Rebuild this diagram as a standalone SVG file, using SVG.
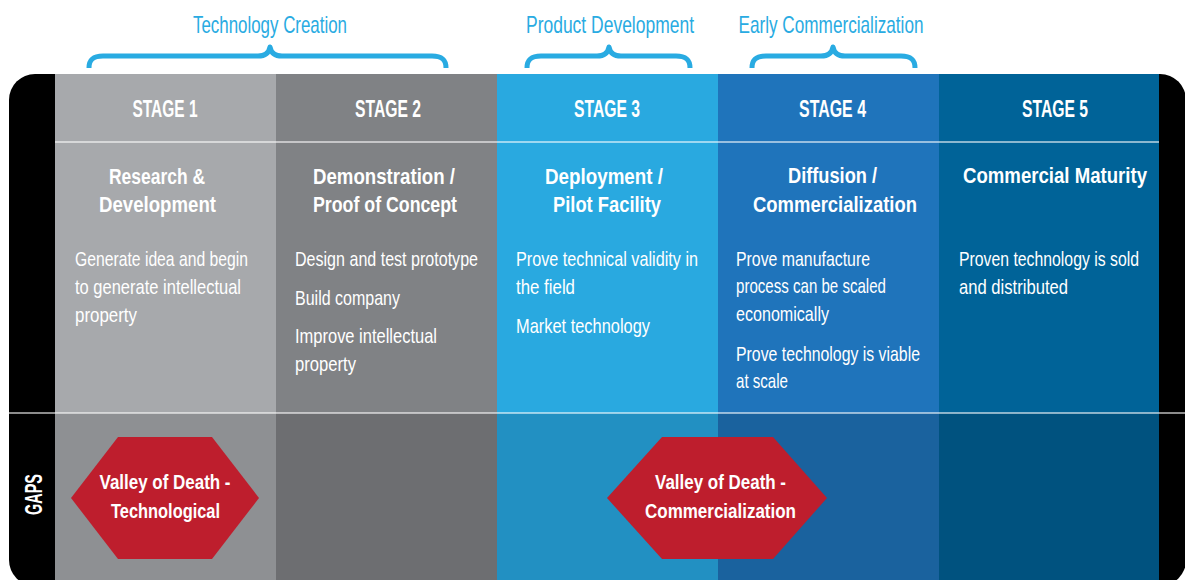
<svg xmlns="http://www.w3.org/2000/svg" width="1185" height="580" viewBox="0 0 1185 580">
<style>
.lbl{font-family:"Liberation Sans Narrow","Liberation Sans",Arial,sans-serif;font-size:24px;fill:#29abe2;text-anchor:middle}
.brace{fill:none;stroke:#29abe2;stroke-width:5;stroke-linecap:butt;stroke-linejoin:round}
.stage{font-family:"Liberation Sans Narrow","Liberation Sans",Arial,sans-serif;font-size:23px;font-weight:bold;fill:#fff;text-anchor:middle}
.title{font-family:"Liberation Sans Narrow","Liberation Sans",Arial,sans-serif;font-size:21.5px;font-weight:bold;fill:#fff;text-anchor:middle}
.body{font-family:"Liberation Sans Narrow","Liberation Sans",Arial,sans-serif;font-size:21px;fill:#fff}
.hex{fill:#be1e2d}
.hext{font-family:"Liberation Sans Narrow","Liberation Sans",Arial,sans-serif;font-size:20px;font-weight:bold;fill:#fff;text-anchor:middle}
.div{stroke:#fff;stroke-opacity:0.55;stroke-width:2}
</style>
<rect width="1185" height="580" fill="#fff"/>
<!-- top phase labels with braces -->
<g id="phase-technology-creation">
<text class="lbl" x="270" y="33" textLength="154" lengthAdjust="spacingAndGlyphs">Technology Creation</text>
<path class="brace" d="M89,68 C89,60 93,56 103,56 L258,56 C265,56 269,53 270,47 C271,53 275,56 282,56 L432,56 C442,56 446,60 446,68"/>
</g>
<g id="phase-product-development">
<text class="lbl" x="610" y="33" textLength="168" lengthAdjust="spacingAndGlyphs">Product Development</text>
<path class="brace" d="M527,68 C527,60 531,56 541,56 L597,56 C604,56 608,53 609,47 C610,53 614,56 621,56 L676,56 C686,56 690,60 690,68"/>
</g>
<g id="phase-early-commercialization">
<text class="lbl" x="831" y="33" textLength="185" lengthAdjust="spacingAndGlyphs">Early Commercialization</text>
<path class="brace" d="M752,68 C752,60 756,56 766,56 L821,56 C828,56 832,53 833,47 C834,53 838,56 845,56 L901,56 C911,56 915,60 915,68"/>
</g>
<!-- frame -->
<g id="frame">
<rect x="9" y="74" width="1177" height="512" rx="26" ry="26" fill="#000"/>
</g>
<!-- columns -->
<g id="stage1">
<rect x="55" y="74" width="221" height="339" fill="#a7a9ac"/>
<rect x="55" y="413" width="221" height="167" fill="#8e9093"/>
<text class="stage" x="165" y="117" textLength="65" lengthAdjust="spacingAndGlyphs">STAGE 1</text>
<text class="title" x="157" y="184" textLength="96" lengthAdjust="spacingAndGlyphs">Research &amp;</text>
<text class="title" x="157.5" y="212" textLength="117" lengthAdjust="spacingAndGlyphs">Development</text>
<text class="body" x="75" y="266" textLength="173" lengthAdjust="spacingAndGlyphs">Generate idea and begin</text>
<text class="body" x="75" y="294" textLength="166" lengthAdjust="spacingAndGlyphs">to generate intellectual</text>
<text class="body" x="75" y="322" textLength="62" lengthAdjust="spacingAndGlyphs">property</text>
</g>
<g id="stage2">
<rect x="276" y="74" width="221" height="339" fill="#808285"/>
<rect x="276" y="413" width="221" height="167" fill="#6d6e71"/>
<text class="stage" x="388" y="117" textLength="66" lengthAdjust="spacingAndGlyphs">STAGE 2</text>
<text class="title" x="384" y="184" textLength="142" lengthAdjust="spacingAndGlyphs">Demonstration /</text>
<text class="title" x="385" y="212" textLength="144" lengthAdjust="spacingAndGlyphs">Proof of Concept</text>
<text class="body" x="295" y="266" textLength="183" lengthAdjust="spacingAndGlyphs">Design and test prototype</text>
<text class="body" x="295" y="305" textLength="105" lengthAdjust="spacingAndGlyphs">Build company</text>
<text class="body" x="295" y="343" textLength="142" lengthAdjust="spacingAndGlyphs">Improve intellectual</text>
<text class="body" x="295" y="371" textLength="61" lengthAdjust="spacingAndGlyphs">property</text>
</g>
<g id="stage3">
<rect x="497" y="74" width="221" height="339" fill="#29a9e0"/>
<rect x="497" y="413" width="221" height="167" fill="#2290c2"/>
<text class="stage" x="607" y="117" textLength="66" lengthAdjust="spacingAndGlyphs">STAGE 3</text>
<text class="title" x="604" y="184" textLength="118" lengthAdjust="spacingAndGlyphs">Deployment /</text>
<text class="title" x="607" y="212" textLength="108" lengthAdjust="spacingAndGlyphs">Pilot Facility</text>
<text class="body" x="516" y="266" textLength="182" lengthAdjust="spacingAndGlyphs">Prove technical validity in</text>
<text class="body" x="516" y="294" textLength="59" lengthAdjust="spacingAndGlyphs">the field</text>
<text class="body" x="516" y="333" textLength="134" lengthAdjust="spacingAndGlyphs">Market technology</text>
</g>
<g id="stage4">
<rect x="718" y="74" width="221" height="339" fill="#1f74bb"/>
<rect x="718" y="413" width="221" height="167" fill="#1a629e"/>
<text class="stage" x="832.5" y="117" textLength="67" lengthAdjust="spacingAndGlyphs">STAGE 4</text>
<text class="title" x="832.5" y="183" textLength="89" lengthAdjust="spacingAndGlyphs">Diffusion /</text>
<text class="title" x="835" y="212" textLength="164" lengthAdjust="spacingAndGlyphs">Commercialization</text>
<text class="body" x="736" y="266" textLength="134" lengthAdjust="spacingAndGlyphs">Prove manufacture</text>
<text class="body" x="736" y="293" textLength="150" lengthAdjust="spacingAndGlyphs">process can be scaled</text>
<text class="body" x="736" y="321" textLength="93" lengthAdjust="spacingAndGlyphs">economically</text>
<text class="body" x="736" y="361" textLength="184" lengthAdjust="spacingAndGlyphs">Prove technology is viable</text>
<text class="body" x="736" y="388" textLength="52" lengthAdjust="spacingAndGlyphs">at scale</text>
</g>
<g id="stage5">
<rect x="939" y="74" width="220" height="339" fill="#006398"/>
<rect x="939" y="413" width="220" height="167" fill="#00527f"/>
<text class="stage" x="1055" y="117" textLength="66" lengthAdjust="spacingAndGlyphs">STAGE 5</text>
<text class="title" x="1055" y="183" textLength="184" lengthAdjust="spacingAndGlyphs">Commercial Maturity</text>
<text class="body" x="959" y="266" textLength="180" lengthAdjust="spacingAndGlyphs">Proven technology is sold</text>
<text class="body" x="959" y="294" textLength="109" lengthAdjust="spacingAndGlyphs">and distributed</text>
</g>
<!-- divider lines -->
<g id="dividers">
<line class="div" x1="55" y1="142" x2="1159" y2="142"/>
<line class="div" x1="9" y1="413" x2="1185" y2="413"/>
</g>
<g id="gaps-label">
<text class="stage" x="0" y="0" font-size="22" textLength="41" lengthAdjust="spacingAndGlyphs" transform="translate(41.5,494.5) rotate(-90)">GAPS</text>
</g>
<g id="valley-technological">
<polygon class="hex" points="118,437 212,437 259,498 212,559 118,559 71,498"/>
<text class="hext" x="165" y="489" textLength="131" lengthAdjust="spacingAndGlyphs">Valley of Death -</text>
<text class="hext" x="165.5" y="518" textLength="109" lengthAdjust="spacingAndGlyphs">Technological</text>
</g>
<g id="valley-commercialization">
<polygon class="hex" points="662,437 773,437 827,498 773,559 662,559 607,498"/>
<text class="hext" x="720.5" y="489" textLength="131" lengthAdjust="spacingAndGlyphs">Valley of Death -</text>
<text class="hext" x="720.5" y="518" textLength="151" lengthAdjust="spacingAndGlyphs">Commercialization</text>
</g>
<g id="connectors"></g>
</svg>
